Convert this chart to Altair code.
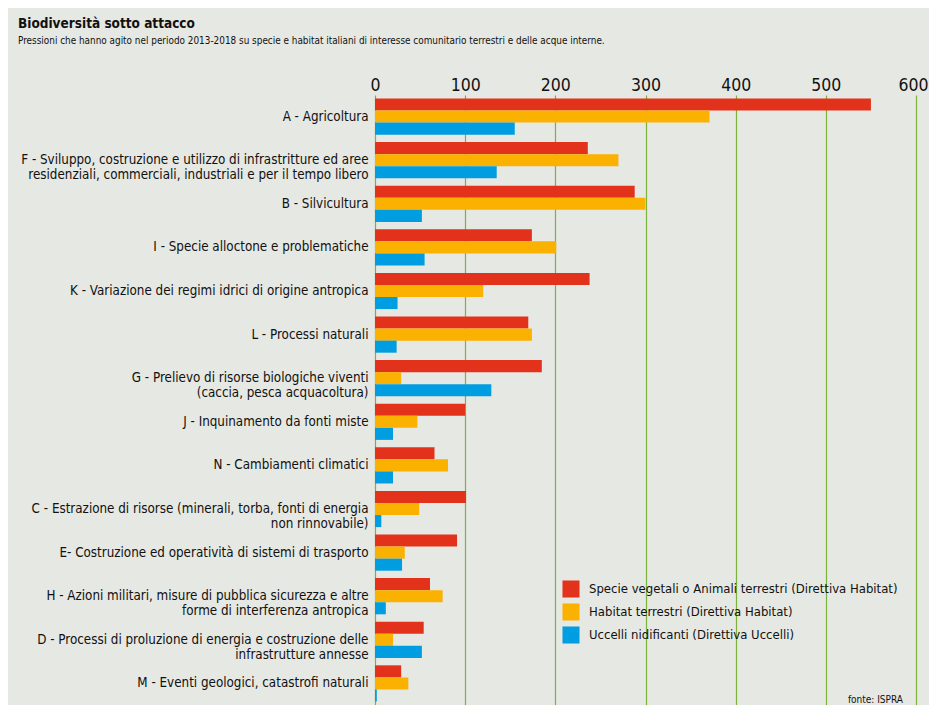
import altair as alt
import pandas as pd

categories = [
    "A - Agricoltura",
    "F - Sviluppo, costruzione e utilizzo di infrastritture ed aree\nresidenziali, commerciali, industriali e per il tempo libero",
    "B - Silvicultura",
    "I - Specie alloctone e problematiche",
    "K - Variazione dei regimi idrici di origine antropica",
    "L - Processi naturali",
    "G - Prelievo di risorse biologiche viventi\n(caccia, pesca acquacoltura)",
    "J - Inquinamento da fonti miste",
    "N - Cambiamenti climatici",
    "C - Estrazione di risorse (minerali, torba, fonti di energia\nnon rinnovabile)",
    "E- Costruzione ed operatività di sistemi di trasporto",
    "H - Azioni militari, misure di pubblica sicurezza e altre\nforme di interferenza antropica",
    "D - Processi di proluzione di energia e costruzione delle\ninfrastrutture annesse",
    "M - Eventi geologici, catastrofi naturali",
]
series = [
    "Specie vegetali o Animali terrestri (Direttiva Habitat)",
    "Habitat terrestri (Direttiva Habitat)",
    "Uccelli nidificanti (Direttiva Uccelli)",
]
specie = [550, 236, 288, 174, 238, 170, 185, 100, 66, 101, 91, 61, 54, 29]
habitat = [371, 270, 300, 201, 120, 174, 29, 47, 81, 49, 33, 75, 20, 37]
uccelli = [155, 135, 52, 55, 25, 24, 129, 20, 20, 7, 30, 12, 52, 2]
ticks = [0, 100, 200, 300, 400, 500, 600]
colors = ["#e3321b", "#fbb100", "#009ee0"]
source = ["fonte: ISPRA"]

rows = []
for i, c in enumerate(categories):
    for s, vals in zip(series, [specie, habitat, uccelli]):
        rows.append({"cat": c, "serie": s, "val": vals[i]})
df = pd.DataFrame(rows)

FONT = "DejaVu Sans Condensed"

bars = alt.Chart(df).mark_bar().encode(
    x=alt.X("val:Q", scale=alt.Scale(domain=[0, 600], nice=False),
            axis=alt.Axis(orient="top", values=ticks,
                          title=None, domain=False, ticks=False,
                          labelFontSize=17.5, labelColor="#111", labelFont=FONT,
                          labelFontWeight=500,
                          labelAlign=alt.ExprRef(expr="datum.value == 600 ? 'right' : 'center'"),
                          labelOffset=alt.ExprRef(expr="datum.value == 600 ? 12 : 0"),
                          labelPadding=1, labelFlush=False,
                          gridColor="#7db23c", gridWidth=1.2, gridOpacity=1)),
    y=alt.Y("cat:N", sort=categories,
            scale=alt.Scale(paddingInner=0.17, paddingOuter=0.08),
            axis=alt.Axis(title=None, domain=False, ticks=False, grid=False,
                          labelExpr="split(datum.label, '\\n')",
                          labelFontSize=13.3, labelFont=FONT, labelColor="#111",
                          labelLimit=400, labelPadding=7, labelLineHeight=15)),
    yOffset=alt.YOffset("serie:N", sort=series, scale=alt.Scale(paddingInner=0, paddingOuter=0)),
    color=alt.Color("serie:N", sort=series,
                    scale=alt.Scale(domain=series, range=colors),
                    legend=alt.Legend(title=None, orient="none", legendX=187, legendY=485,
                                      symbolType="square", symbolSize=290,
                                      symbolStrokeWidth=0, symbolOpacity=1,
                                      labelFontSize=13, labelFont=FONT, labelColor="#111",
                                      rowPadding=5, labelOffset=9, labelLimit=400)),
)

note = alt.Chart(pd.DataFrame({"t": source})).mark_text(
    align="right", baseline="bottom", fontSize=10, font=FONT, color="#111"
).encode(text="t:N", x=alt.value(528), y=alt.value(610))

chart = alt.layer(bars, note).properties(
    width=541, height=610,
    background="#e6e8e3",
    padding={"left": 367, "top": 87, "right": 13, "bottom": 0},
    autosize=alt.AutoSizeParams(type="none"),
    title=alt.TitleParams(
        "Biodiversità sotto attacco",
        subtitle="Pressioni che hanno agito nel periodo 2013-2018 su specie e habitat italiani di interesse comunitario terrestri e delle acque interne.",
        anchor="start", frame="group", dx=-357, offset=30,
        font=FONT, fontSize=13.5, fontWeight="bold", color="#111",
        subtitleFont=FONT, subtitleFontSize=9.9, subtitleColor="#111", subtitlePadding=6,
    ),
).configure_view(stroke=None)

chart.save("out.html", embed_options={"renderer": "svg", "actions": False})
